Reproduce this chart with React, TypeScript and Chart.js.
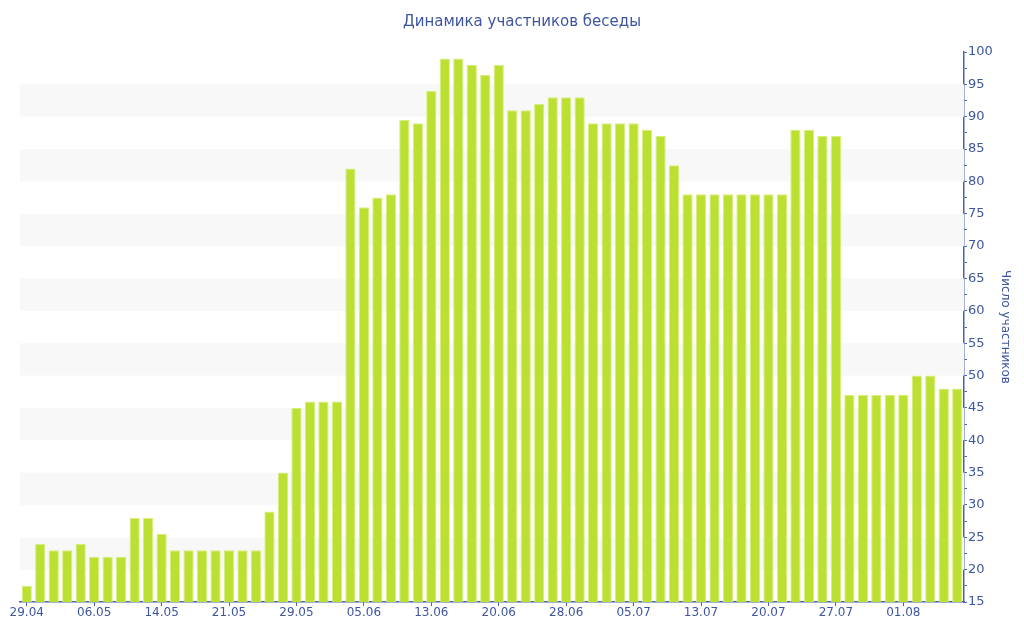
import React, { useEffect, useRef } from "react";
import { Chart, registerables } from "chart.js";

Chart.register(...registerables);

const chartTitle = "Динамика участников беседы";
const yAxisTitle = "Число участников";

const tickLabels = [
  "29.04", "06.05", "14.05", "21.05", "29.05", "05.06", "13.06",
  "20.06", "28.06", "05.07", "13.07", "20.07", "27.07", "01.08",
];
const labelEvery = 5;

const participants = [
  17.5, 24, 23, 23, 24, 22, 22, 22, 28, 28,
  25.5, 23, 23, 23, 23, 23, 23, 23, 29, 35,
  45, 46, 46, 46, 82, 76, 77.5, 78, 89.5, 89,
  94, 99, 99, 98, 96.5, 98, 91, 91, 92, 93,
  93, 93, 89, 89, 89, 89, 88, 87, 82.5, 78,
  78, 78, 78, 78, 78, 78, 78, 88, 88, 87,
  87, 47, 47, 47, 47, 47, 50, 50, 48, 48,
];

const bandStarts = [20, 30, 40, 50, 60, 70, 80, 90];
const bandSize = 5;
const yMin = 15;
const yMax = 100;

const textColor = "#3e56a0";
const axisColor = "#4a62a8";

const categories = participants.map((_, i) =>
  i % labelEvery === 0 ? tickLabels[i / labelEvery] ?? "" : ""
);

const bandsPlugin = {
  id: "bands",
  beforeDatasetsDraw(chart: any) {
    const { ctx, chartArea } = chart;
    const y = chart.scales.y;
    ctx.save();
    ctx.fillStyle = "#f8f8f8";
    for (const b of bandStarts) {
      const top = y.getPixelForValue(b + bandSize);
      const bottom = y.getPixelForValue(b);
      ctx.fillRect(chartArea.left, top, chartArea.right - chartArea.left, bottom - top);
    }
    ctx.restore();
  },
};

export default function App() {
  const ref = useRef<HTMLCanvasElement | null>(null);

  useEffect(() => {
    if (!ref.current) return;
    Chart.defaults.font.family = "'DejaVu Sans', Verdana, sans-serif";
    const chart = new Chart(ref.current, {
      type: "bar",
      data: {
        labels: categories,
        datasets: [
          {
            label: yAxisTitle,
            data: participants,
            backgroundColor: "#bce031",
            borderColor: "#d6ee7c",
            borderWidth: 1,
            barPercentage: 0.76,
            categoryPercentage: 1,
          },
        ],
      },
      options: {
        animation: false,
        responsive: true,
        maintainAspectRatio: false,
        layout: { padding: { left: 20, right: 0, top: 0, bottom: 0 } },
        plugins: {
          legend: { display: false },
          title: {
            display: true,
            text: chartTitle,
            color: textColor,
            font: { size: 15, weight: "normal" },
            padding: { top: 13, bottom: 21 },
          },
          tooltip: { enabled: true },
        },
        scales: {
          x: {
            type: "category",
            offset: true,
            grid: {
              display: true,
              drawOnChartArea: false,
              offset: false,
              tickLength: 4,
              tickColor: (c: any) => (c.index % labelEvery === 0 ? axisColor : "transparent"),
            },
            border: { display: true, color: axisColor, width: 1.5 },
            ticks: {
              autoSkip: false,
              maxRotation: 0,
              minRotation: 0,
              color: textColor,
              font: { size: 12 },
              padding: 0,
            },
            afterFit: (s: any) => {
              s.height = 38;
            },
          },
          y: {
            position: "right",
            min: yMin,
            max: yMax,
            grid: {
              display: true,
              drawOnChartArea: false,
              tickLength: 3,
              tickColor: axisColor,
            },
            border: { display: true, color: axisColor, width: 1.5 },
            ticks: {
              stepSize: 2.5,
              autoSkip: false,
              color: textColor,
              font: { size: 13 },
              padding: 1,
              callback: (v: any) => (Number(v) % 5 === 0 ? String(v) : ""),
            },
            title: {
              display: true,
              text: yAxisTitle,
              color: textColor,
              font: { size: 12 },
              padding: { top: 12, bottom: 0 },
            },
            afterFit: (s: any) => {
              s.width = 60;
            },
          },
        },
      },
      plugins: [bandsPlugin],
    });
    return () => chart.destroy();
  }, []);

  return (
    <div
      style={{
        position: "fixed",
        left: 0,
        top: 0,
        width: 1024,
        height: 640,
        background: "#fff",
      }}
    >
      <canvas ref={ref} />
    </div>
  );
}
